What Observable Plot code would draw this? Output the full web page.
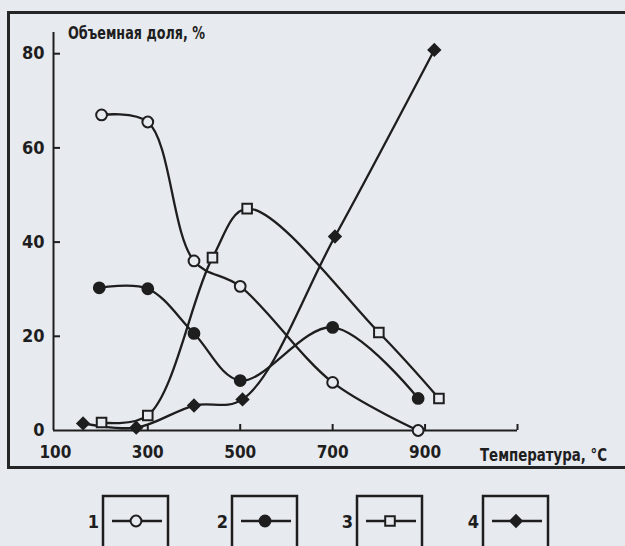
<!DOCTYPE html>
<html><head><meta charset="utf-8">
<script src="https://cdn.jsdelivr.net/npm/d3@7"></script>
<script src="https://cdn.jsdelivr.net/npm/@observablehq/plot@0.6"></script>
<style>
html,body{margin:0;padding:0;background:#e7eaef;}
#wrap{position:relative;width:625px;height:546px;overflow:hidden;background:#e7eaef;}
#frame{position:absolute;left:7px;top:11px;width:650px;height:458px;border:3px solid #262626;box-sizing:border-box;}
#chart{position:absolute;left:0;top:0;}
svg text{font-family:"DejaVu Sans Condensed","Liberation Sans Narrow","Arial Narrow",sans-serif;font-weight:bold;}
</style>
</head><body>
<div id="wrap"><div id="frame"></div><div id="chart"></div></div>
<script>
// Data
const seriesNames = ["1", "2", "3", "4"];
const series1T = [200, 300, 400, 500, 700, 885];
const series1V = [67, 65.5, 36, 30.6, 10.2, 0];
const series2T = [195, 300, 400, 500, 700, 885];
const series2V = [30.3, 30.1, 20.6, 10.6, 21.9, 6.8];
const series3T = [200, 300, 440, 515, 800, 930];
const series3V = [1.7, 3.2, 36.7, 47.1, 20.8, 6.8];
const series4T = [160, 275, 400, 505, 705, 920];
const series4V = [1.5, 0.6, 5.3, 6.6, 41.2, 80.8];
const xTickLabels = [100, 300, 500, 700, 900];
const xTickMarks = [300, 500, 700, 900, 1100];
const yTickLabels = [0, 20, 40, 60, 80];
const yTickMarks = [20, 40, 60, 80];
const yTitle = "Объемная доля, %";
const xTitle = "Температура, °C";

const bg = "#e7eaef";
const ink = "#1e1e1e";
const symbols = ["circle", "circle", "square", "diamond2"];
const fills = [bg, ink, bg, ink];

const toRows = (T, V, s) => T.map((t, i) => ({t, v: V[i], s}));
const all = [
  toRows(series1T, series1V, "1"),
  toRows(series2T, series2V, "2"),
  toRows(series3T, series3V, "3"),
  toRows(series4T, series4V, "4")
];

const marks = [];
all.forEach((rows, i) => {
  marks.push(Plot.line(rows, {x: "t", y: "v", curve: "catmull-rom", stroke: ink, strokeWidth: 2.3}));
});
all.forEach((rows, i) => {
  marks.push(Plot.dot(rows, {x: "t", y: "v", symbol: () => symbols[i], r: i === 3 ? 5.2 : 5.4,
    fill: fills[i], stroke: ink, strokeWidth: 2}));
});

const plot = Plot.plot({
  width: 625,
  height: 546,
  marginLeft: 53,
  marginRight: 108,
  marginTop: 32,
  marginBottom: 116,
  style: {background: "transparent", color: ink, fontSize: "18px"},
  x: {domain: [96, 1100]},
  y: {domain: [0, 84.5]},
  marks: [
    Plot.axisX({ticks: xTickLabels, tickSize: 0, tickPadding: 15, fontSize: 17, label: null}),
    Plot.axisX({ticks: xTickMarks, tickSize: -6, tickFormat: () => "", strokeWidth: 2, label: null}),
    Plot.axisY({ticks: yTickLabels, tickSize: 0, tickPadding: 9, fontSize: 18, label: null}),
    Plot.axisY({ticks: yTickMarks, tickSize: -7, tickFormat: () => "", strokeWidth: 2, label: null}),
    Plot.ruleY([0], {stroke: ink, strokeWidth: 2}),
    Plot.ruleX([96], {stroke: ink, strokeWidth: 2}),
    ...marks
  ]
});
document.getElementById("chart").appendChild(plot);

const svg = d3.select(plot);
svg.append("text").attr("x", 68).attr("y", 39).attr("text-anchor", "start")
  .attr("font-size", 17).attr("fill", ink)
  .attr("textLength", 137).attr("lengthAdjust", "spacingAndGlyphs").text(yTitle);
svg.append("text").attr("x", 480).attr("y", 461).attr("text-anchor", "start")
  .attr("font-size", 17).attr("fill", ink)
  .attr("textLength", 127).attr("lengthAdjust", "spacingAndGlyphs").text(xTitle);

// Legend
const boxLefts = [103, 232, 357, 483];
const boxW = 65, boxTop = 496, lineY = 521;
seriesNames.forEach((name, i) => {
  const g = svg.append("g");
  const L = boxLefts[i];
  g.append("rect").attr("x", L).attr("y", boxTop).attr("width", boxW).attr("height", 70)
    .attr("fill", "none").attr("stroke", ink).attr("stroke-width", 2.5);
  g.append("text").attr("x", L - 4).attr("y", lineY + 7).attr("text-anchor", "end")
    .attr("font-size", 18).attr("fill", ink).text(name);
  g.append("line").attr("x1", L + 9).attr("x2", L + boxW - 6).attr("y1", lineY).attr("y2", lineY)
    .attr("stroke", ink).attr("stroke-width", 2.5);
  const sym = [d3.symbolCircle, d3.symbolCircle, d3.symbolSquare, d3.symbolDiamond2][i];
  const r = i === 3 ? 5.2 : 5.4;
  g.append("path").attr("d", d3.symbol(sym, Math.PI * r * r)())
    .attr("transform", `translate(${L + 33},${lineY})`)
    .attr("fill", fills[i]).attr("stroke", ink).attr("stroke-width", 2);
});
</script>
</body></html>
